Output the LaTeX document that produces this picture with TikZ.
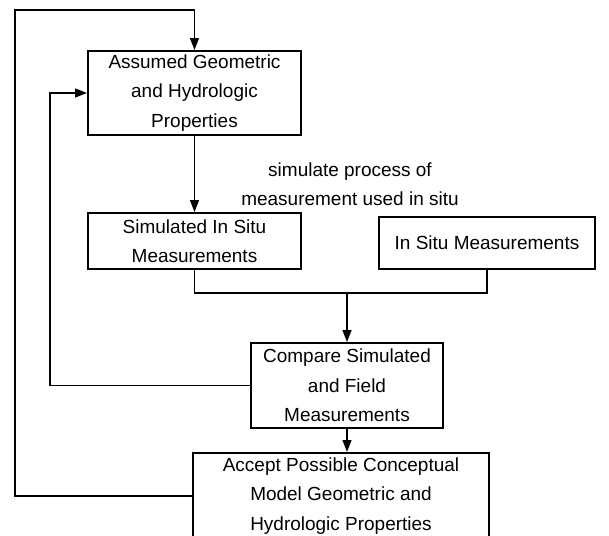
\documentclass[tikz,border=0pt]{standalone}
\usepackage{fontspec}
\setmainfont{Liberation Sans}
\usetikzlibrary{arrows.meta}

\begin{document}
\begin{tikzpicture}[x=0.025cm, y=-0.025cm, >={Triangle[length=3mm, width=2.2mm]}, line width=1.3pt,
  every node/.style={font=\fontsize{13.5}{21}\selectfont},
  stepbox/.style={draw, align=center, inner sep=2pt}]
  \useasboundingbox (0,0) rectangle (609,535);
  % boxes
  \node[stepbox, minimum width=5.325cm, minimum height=2.1cm] (assumed) at (194.5,93) {Assumed Geometric\\and Hydrologic\\Properties};
  \node[stepbox, minimum width=5.325cm, minimum height=1.4cm] (simulated) at (194.5,241) {Simulated In Situ\\Measurements};
  \node[stepbox, minimum width=5.4cm, minimum height=1.3cm] (insitu) at (487,243) {In Situ Measurements};
  \node[stepbox, minimum width=4.8cm, minimum height=2.125cm] (compare) at (347,385.5) {Compare Simulated\\and Field\\Measurements};
  \node[stepbox, minimum width=7.4cm, minimum height=2.15cm, anchor=north] (accept) at (341,452) {Accept Possible Conceptual\\Model Geometric and\\Hydrologic Properties};
  \node[align=center] (simlabel) at (350,184) {simulate process of\\measurement used in situ};
  % connectors
  \coordinate (merge) at (compare.north |- 0,293);
  \draw[->] (assumed.south) -- (simulated.north);
  \draw (simulated.south) |- (merge) -| (insitu.south);
  \draw[->] (merge) -- (compare.north);
  \draw[->] (compare.south) -- (compare.south |- accept.north);
  \draw[->] (compare.west) -| (50,93) -- (assumed.west);
  \draw[->] (accept.west) -| (15,10) -| (assumed.north);
\end{tikzpicture}
\end{document}
